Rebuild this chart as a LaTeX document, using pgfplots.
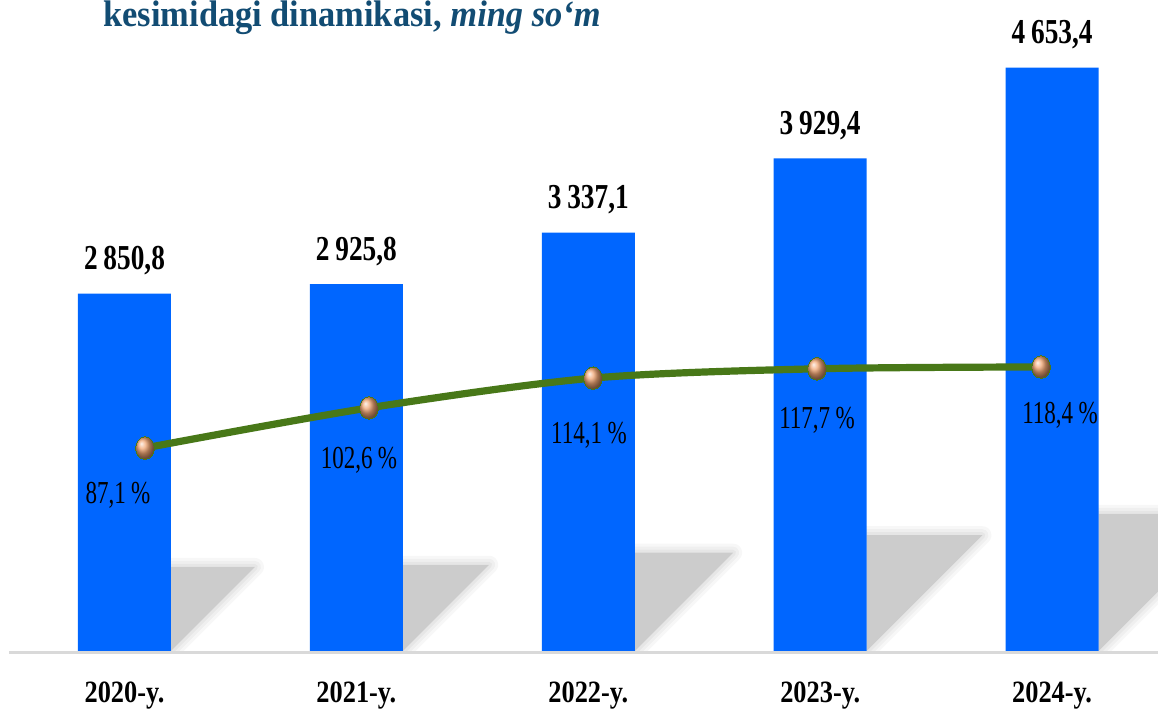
\documentclass[border=0pt]{standalone}
\usepackage{fontspec}
\setmainfont{Liberation Serif}
\newfontfamily\valfont{Liberation Serif}[FakeStretch=0.78]
\newfontfamily\catfont{Liberation Serif}[FakeStretch=0.85]
\newfontfamily\pctfont{Liberation Serif}[FakeStretch=0.72]
\newfontfamily\titfont{Liberation Serif}[FakeStretch=0.93]
\usepackage{pgfplots}
\usepackage{pgfplotstable}
\pgfplotsset{compat=1.18}
\definecolor{barblue}{RGB}{0,102,255}
\definecolor{linegreen}{RGB}{72,120,24}
\definecolor{titleblue}{RGB}{18,76,115}
\definecolor{bronze}{RGB}{240,165,115}
\definecolor{shadowgray}{RGB}{204,204,204}
\definecolor{basegray}{RGB}{217,217,217}
\pgfplotstableread{
x val
0 2850.8
1 2925.8
2 3337.1
3 3929.4
4 4653.4
}\bars
\pgfplotstableread{
x pct
0 87.1
1 102.6
2 114.1
3 117.7
4 118.4
}\pcts
\newcommand{\shadowtri}[3]{% x, dx-end, dy
  \draw[shadowgray, line width=9pt, opacity=0.15, line join=round]
      (axis cs:#1,0) -- (axis cs:#2,#3) -- (axis cs:#1,#3) -- cycle;
  \draw[shadowgray, line width=6pt, opacity=0.2, line join=round]
      (axis cs:#1,0) -- (axis cs:#2,#3) -- (axis cs:#1,#3) -- cycle;
  \draw[shadowgray, line width=3pt, opacity=0.25, line join=round]
      (axis cs:#1,0) -- (axis cs:#2,#3) -- (axis cs:#1,#3) -- cycle;
  \fill[shadowgray] (axis cs:#1,0) -- (axis cs:#2,#3) -- (axis cs:#1,#3) -- cycle;
}
\begin{document}
\begin{tikzpicture}[x=1pt,y=1pt]
\path[use as bounding box] (0,0) rectangle (579,357.5);
\begin{axis}[
  at={(4.5pt,32pt)}, anchor=south west, scale only axis,
  width=574.5pt, height=325.5pt,
  xmin=-0.498, xmax=4.4567, ymin=0, ymax=5192,
  axis line style={draw=none}, ytick=\empty, xtick={0,...,4},
  xticklabels={2020-y.,2021-y.,2022-y.,2023-y.,2024-y.},
  major tick length=0pt,
  xticklabel style={font=\catfont\bfseries\fontsize{15.5}{15.5}\selectfont, anchor=base, yshift=-26pt},
  clip mode=individual,
]
\begin{scope}
\clip (axis cs:-0.498,0) rectangle (axis cs:4.4567,5192);
\shadowtri{0.2005}{0.5625}{670}
\shadowtri{1.2005}{1.5725}{687.6}
\shadowtri{2.2005}{2.6245}{784.2}
\shadowtri{3.2005}{3.6995}{923.4}
\shadowtri{4.2005}{4.7915}{1093.5}
\end{scope}
\addplot[ybar, bar width=46.5pt, fill=barblue, draw=none,
  nodes near coords={\pgfmathprintnumber[fixed,fixed zerofill,precision=1,use comma,1000 sep={\,},assume math mode=true]{\pgfplotspointmeta}},
  nodes near coords style={font=\valfont\bfseries\fontsize{17.5}{17.5}\selectfont, anchor=base, yshift=12pt, text=black}]
  table[x=x,y=val]{\bars};
\draw[basegray, line width=1.3pt] ([yshift=-0.7pt]axis cs:-0.498,0) -- ([yshift=-0.7pt]axis cs:4.4567,0);
\end{axis}
\begin{axis}[
  at={(4.5pt,32pt)}, anchor=south west, scale only axis,
  width=574.5pt, height=325.5pt,
  xmin=-0.607, xmax=4.522, ymin=8.66, ymax=260.2,
  hide axis, clip=false,
]
\addplot[linegreen, line width=3.6pt, smooth, mark=ball, mark size=4.7pt,
  mark options={ball color=bronze, draw=none, line width=0pt, yscale=1.2}]
  table[x=x,y=pct]{\pcts};
\end{axis}
\begin{scope}[font=\pctfont\fontsize{16}{16}\selectfont]
\node at (59,110) {87,1\,\%};
\node at (179.5,127.5) {102,6\,\%};
\node at (294.5,140) {114,1\,\%};
\node at (408.5,147.5) {117,7\,\%};
\node at (530,150) {118,4\,\%};
\end{scope}
\node[anchor=base, text=titleblue, font=\titfont\bfseries\fontsize{18.5}{18.5}\selectfont] at (176,344) {kesimidagi dinamikasi, \textit{ming so‘m}};
\end{tikzpicture}
\end{document}
